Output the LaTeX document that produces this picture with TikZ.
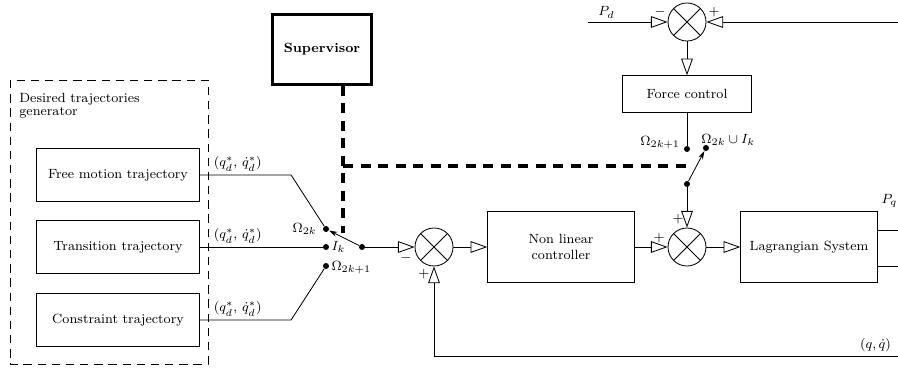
\documentclass[tikz,border=0pt]{standalone}
\usetikzlibrary{arrows.meta}

\tikzset{
	block/.style={draw,align=center,inner sep=2pt},
	sum/.style={draw,circle,minimum size=22.8pt,inner sep=0pt,
		path picture={\draw (path picture bounding box.north west) -- (path picture bounding box.south east)
			(path picture bounding box.north east) -- (path picture bounding box.south west);}},
	dot/.style={circle,fill,inner sep=0pt,minimum size=3.6pt},
	tri/.style={-{Triangle[open,length=10pt,width=7pt]}},
	switch/.style={-{Stealth[length=5pt,width=3pt]}},
	gen/.style={dash pattern=on 5pt off 3.5pt},
	ctrl/.style={line width=2pt,dash pattern=on 6pt off 4.5pt}
}

\begin{document}
\begin{tikzpicture}[x=0.6pt,y=-0.6pt,font=\footnotesize,line width=0.5pt]
	\useasboundingbox (0,0) rectangle (898,367);

	% trajectories generator
	\draw[gen] (10,80) rectangle (208,364);
	\node[anchor=north west,align=left,inner sep=0pt] (title) at (19,93) {Desired trajectories\\[-2pt]generator};
	\node[block,minimum width=98pt,minimum height=32pt] (free) at (118,175) {Free motion trajectory};
	\node[block,minimum width=98pt,minimum height=32pt] (trans) at (118,247) {Transition trajectory};
	\node[block,minimum width=98pt,minimum height=32pt] (cons) at (118,320) {Constraint trajectory};

	\node[block,line width=1.8pt,minimum width=59pt,minimum height=42pt] (sup) at (322,49) {\textbf{Supervisor}};

	% switch
	\node[dot] (om) at (326,229) {};
	\node[dot] (ik) at (326,247) {};
	\node[dot] (omm) at (326,266) {};
	\node[dot] (piv) at (362,247) {};
	\node[left] (om-l) at (om.west) {$\Omega_{2k}$};
	\node[right,inner sep=1pt] (ik-l) at (ik.east) {$I_k$};
	\node[right,inner sep=1pt] (omm-l) at ([yshift=-1pt]omm.east) {$\Omega_{2k+1}$};

	\draw (free.east) -- ++(91,0) -- (om);
	\draw (trans.east) -- (ik);
	\draw (cons.east) -- ++(91,0) -- (omm);
	\draw[switch] (piv) -- (om);
	\foreach \b in {free,trans,cons}
		\node[anchor=south west,inner sep=2pt] (\b-q) at ([xshift=6pt]\b.east) {$(q^{*}_{d},\,\dot{q}^{*}_{d})$};

	% main loop
	\node[sum] (s1) at (434,247) {};
	\node[block,minimum width=88pt,minimum height=43pt] (nlc) at (561,247) {Non linear\\controller};
	\node[sum] (s2) at (687,247) {};
	\node[block,minimum width=82pt,minimum height=43pt] (lag) at (809,247) {Lagrangian System};

	\draw[tri] (piv) -- (s1);
	\draw[tri] (s1) -- (nlc);
	\draw[tri] (nlc) -- (s2);
	\draw[tri] (s2) -- (lag);

	\coordinate (pq) at (898,230);
	\coordinate (qq) at (898,266);
	\draw (pq-|lag.east) -- (pq);
	\draw (qq-|lag.east) -- (qq);
	\node[above right,inner sep=2pt] (pq-l) at (lag.north east) {$P_q$};

	\coordinate (fb) at (898,356);
	\draw[tri] (fb) -- (fb-|s1) -- (s1);
	\node[above left,inner sep=2pt] (fb-l) at ([xshift=-2pt]fb) {$(q,\dot q)$};

	\node (s1-m) at (406,258) {$-$};
	\node (s1-p) at (424,274) {$+$};
	\node (s2-p) at (678,219) {$+$};
	\node (s2-q) at (659,238) {$+$};

	% force loop
	\node[sum] (s3) at (687,22) {};
	\node[block,minimum width=77pt,minimum height=22pt] (fc) at (687,94) {Force control};
	\coordinate (pd) at (588,22);
	\coordinate (pin) at (898,22);
	\draw[tri] (pd) -- (s3);
	\draw[tri] (pin) -- (s3);
	\node[above right,inner sep=2pt] (pd-l) at ([xshift=4pt]pd) {$P_d$};
	\node (s3-m) at (660,12) {$-$};
	\node (s3-p) at (714,12) {$+$};
	\draw[tri] (s3) -- (fc);

	\node[dot] (fom) at (687,149) {};
	\node[dot] (fik) at (706,148) {};
	\node[dot] (fpiv) at (687,184) {};
	\node[anchor=base east,inner sep=0pt] (fom-l) at ([xshift=-4pt,yshift=2.4pt]fom.center) {$\Omega_{2k+1}$};
	\node[anchor=base west,inner sep=0pt] (fik-l) at ([xshift=-3pt,yshift=3pt]fik.center) {$\Omega_{2k}\cup I_k$};
	\draw (fc) -- (fom);
	\draw[switch] (fpiv) -- (fik);
	\draw[tri] (fpiv) -- (s2);

	% supervisor commands
	\coordinate (sw) at (343,233);
	\coordinate (sc) at (690,166);
	\draw[ctrl] (sup.south-|sw) -- (sw);
	\draw[ctrl] (sc-|sw) -- (sc);
\end{tikzpicture}
\end{document}
